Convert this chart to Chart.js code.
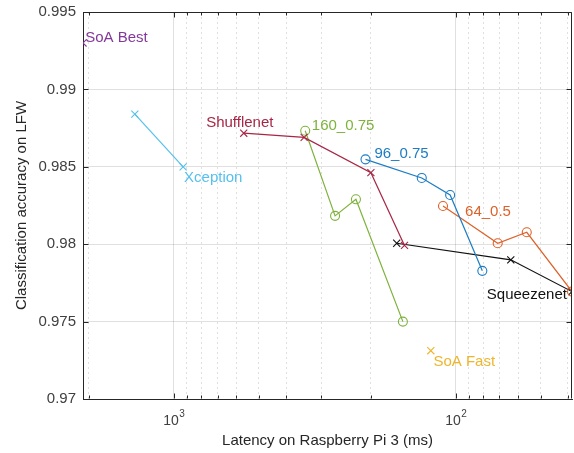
<!DOCTYPE html>
<html>
<head>
<meta charset="utf-8">
<script src="https://cdn.jsdelivr.net/npm/chart.js@4.4.1/dist/chart.umd.min.js"></script>
<style>
  html, body { margin: 0; padding: 0; background: #ffffff; }
</style>
</head>
<body>
<canvas id="grafico" width="574" height="453"></canvas>
<script>
// Latência (ms) e acurácia no LFW
const xceptionLat = [1375, 927];
const xceptionAcc = [0.9884, 0.9850];
const shuffleLat = [565, 345, 200, 152];
const shuffleAcc = [0.98717, 0.98690, 0.98462, 0.97992];
const mob160Lat = [342, 268, 226, 154];
const mob160Acc = [0.98733, 0.98183, 0.98290, 0.97500];
const mob96Lat = [209, 132, 104.7, 80.5];
const mob96Acc = [0.98548, 0.98428, 0.98318, 0.97828];
const mob64Lat = [111, 71, 56, 38.7];
const mob64Acc = [0.98247, 0.98006, 0.98077, 0.97694];
const squeezeLat = [162, 63.8, 38.7];
const squeezeAcc = [0.98006, 0.97899, 0.97694];
const soaBestLat = [2100];
const soaBestAcc = [0.99300];
const soaFastLat = [122.6];
const soaFastAcc = [0.97312];

// Textos dentro do gráfico (âncora em coordenadas dos dados)
const rotulos = ['SoA Best', 'Xception', 'Shufflenet', '160_0.75', '96_0.75', '64_0.5', 'Squeezenet', 'SoA Fast'];
const rotuloLat = [2063, 920, 768, 324, 194.4, 92.7, 77.6, 120];
const rotuloAcc = [0.99333, 0.98430, 0.98785, 0.98763, 0.98583, 0.98210, 0.97673, 0.97243];

// Ticks dos eixos
const xTicks = [2000, 1000, 900, 800, 700, 600, 500, 400, 300, 200, 100, 90, 80, 70, 60, 50, 40];
const xTicksMaiores = [1000, 100];
const xTickExpoente = ['3', '2'];
const yTicks = [0.97, 0.975, 0.98, 0.985, 0.99, 0.995];

// Cores (paleta padrão do MATLAB, um pouco mais clara como na figura)
const cores = {
    'SoA Best': '#84399a',
    'Xception': '#55c0ee',
    'Shufflenet': '#a82645',
    '160_0.75': '#7db23c',
    '96_0.75': '#1c7cc4',
    '64_0.5': '#dd6129',
    'Squeezenet': '#111111',
    'SoA Fast': '#eeb52e'
};

const FONTE = '"Liberation Sans", Arial, sans-serif';

function pontos(lat, acc) {
    return lat.map((l, i) => ({ x: l, y: acc[i] }));
}

function serie(nome, lat, acc, marcador, comLinha) {
    return {
        label: nome,
        data: pontos(lat, acc),
        borderColor: cores[nome],
        backgroundColor: 'rgba(0,0,0,0)',
        pointBorderColor: cores[nome],
        pointBackgroundColor: 'rgba(0,0,0,0)',
        pointStyle: marcador,
        pointRadius: marcador === 'circle' ? 4.5 : 5,
        pointBorderWidth: 1.1,
        borderWidth: 1.2,
        showLine: comLinha,
        tension: 0
    };
}

// Caixa, ticks para dentro e rótulos 10^n
const molduraPlugin = {
    id: 'moldura',
    afterDraw(chart) {
        const ctx = chart.ctx;
        const a = chart.chartArea;
        const sx = chart.scales.x;
        const sy = chart.scales.y;
        const esq = Math.round(a.left) + 0.5;
        const dir = Math.round(a.right) - 0.5;
        const topo = Math.round(a.top) + 0.5;
        const base = Math.round(a.bottom) - 0.5;

        ctx.save();
        ctx.strokeStyle = '#262626';
        ctx.lineWidth = 1;
        ctx.beginPath();
        ctx.moveTo(esq, topo);
        ctx.lineTo(dir, topo);
        ctx.lineTo(dir, base);
        ctx.stroke();

        ctx.beginPath();
        yTicks.forEach(function (v) {
            const y = Math.round(sy.getPixelForValue(v)) + 0.5;
            ctx.moveTo(esq, y); ctx.lineTo(esq + 5, y);
            ctx.moveTo(dir, y); ctx.lineTo(dir - 5, y);
        });
        xTicks.forEach(function (v) {
            const x = Math.round(sx.getPixelForValue(v)) + 0.5;
            const tam = xTicksMaiores.includes(v) ? 5 : 3;
            ctx.moveTo(x, base); ctx.lineTo(x, base - tam);
            ctx.moveTo(x, topo); ctx.lineTo(x, topo + tam);
        });
        ctx.stroke();

        // rótulos 10^3 e 10^2
        ctx.fillStyle = '#404040';
        ctx.textBaseline = 'alphabetic';
        ctx.textAlign = 'left';
        xTicksMaiores.forEach(function (v, i) {
            const x = sx.getPixelForValue(v);
            ctx.font = '14px ' + FONTE;
            const w1 = ctx.measureText('10').width;
            ctx.font = '10px ' + FONTE;
            const w2 = ctx.measureText(xTickExpoente[i]).width;
            const x0 = x - (w1 + w2) / 2;
            ctx.font = '14px ' + FONTE;
            ctx.fillText('10', x0, 425);
            ctx.font = '10px ' + FONTE;
            ctx.fillText(xTickExpoente[i], x0 + w1 + 0.5, 417);
        });
        ctx.restore();
    },
    afterDatasetsDraw(chart) {
        const ctx = chart.ctx;
        const sx = chart.scales.x;
        const sy = chart.scales.y;
        ctx.save();
        ctx.font = '15px ' + FONTE;
        ctx.textAlign = 'left';
        ctx.textBaseline = 'middle';
        rotulos.forEach(function (txt, i) {
            ctx.fillStyle = cores[txt];
            ctx.fillText(txt, sx.getPixelForValue(rotuloLat[i]), sy.getPixelForValue(rotuloAcc[i]));
        });
        ctx.restore();
    }
};

const ctx = document.getElementById('grafico').getContext('2d');
new Chart(ctx, {
    type: 'scatter',
    data: {
        datasets: [
            serie('Xception', xceptionLat, xceptionAcc, 'crossRot', true),
            serie('Shufflenet', shuffleLat, shuffleAcc, 'crossRot', true),
            serie('160_0.75', mob160Lat, mob160Acc, 'circle', true),
            serie('96_0.75', mob96Lat, mob96Acc, 'circle', true),
            serie('64_0.5', mob64Lat, mob64Acc, 'circle', true),
            serie('Squeezenet', squeezeLat, squeezeAcc, 'crossRot', true),
            serie('SoA Best', soaBestLat, soaBestAcc, 'crossRot', false),
            serie('SoA Fast', soaFastLat, soaFastAcc, 'crossRot', false)
        ]
    },
    plugins: [molduraPlugin],
    options: {
        responsive: false,
        animation: false,
        devicePixelRatio: 1,
        layout: { autoPadding: false, padding: { left: 0, right: 2, top: 12, bottom: 0 } },
        plugins: {
            legend: { display: false },
            tooltip: { enabled: false }
        },
        scales: {
            x: {
                type: 'logarithmic',
                reverse: true,
                min: 38.7,
                max: 2100,
                afterBuildTicks: function (scale) {
                    scale.ticks = xTicks.map(v => ({ value: v, major: xTicksMaiores.includes(v) }));
                },
                afterFit: function (scale) {
                    scale.height = 54;
                    scale.paddingLeft = 0;
                    scale.paddingRight = 0;
                },
                ticks: { display: false },
                grid: {
                    drawTicks: false,
                    color: 'rgba(0,0,0,0.12)',
                    lineWidth: 1
                },
                border: {
                    color: '#262626',
                    dash: ctx => (ctx.tick && !xTicksMaiores.includes(ctx.tick.value)) ? [2, 3] : []
                },
                title: {
                    display: true,
                    text: 'Latency on Raspberry Pi 3 (ms)',
                    color: '#262626',
                    font: { family: FONTE, size: 15 },
                    padding: { top: 0, bottom: 3 }
                }
            },
            y: {
                type: 'linear',
                min: 0.97,
                max: 0.995,
                afterBuildTicks: function (scale) {
                    scale.ticks = yTicks.map(v => ({ value: v }));
                },
                afterFit: function (scale) {
                    scale.width = 83;
                    // sem folga extra em cima/baixo por causa dos rótulos
                    scale.paddingTop = 0;
                    scale.paddingBottom = 0;
                },
                ticks: {
                    color: '#404040',
                    font: { family: FONTE, size: 15 },
                    padding: 7,
                    callback: v => String(+v.toFixed(3))
                },
                grid: {
                    drawTicks: false,
                    color: 'rgba(0,0,0,0.12)',
                    lineWidth: 1
                },
                border: { color: '#262626' },
                title: {
                    display: true,
                    text: 'Classification accuracy on LFW',
                    color: '#262626',
                    font: { family: FONTE, size: 15 },
                    padding: { top: 13, bottom: 0 }
                }
            }
        }
    }
});
</script>
</body>
</html>
